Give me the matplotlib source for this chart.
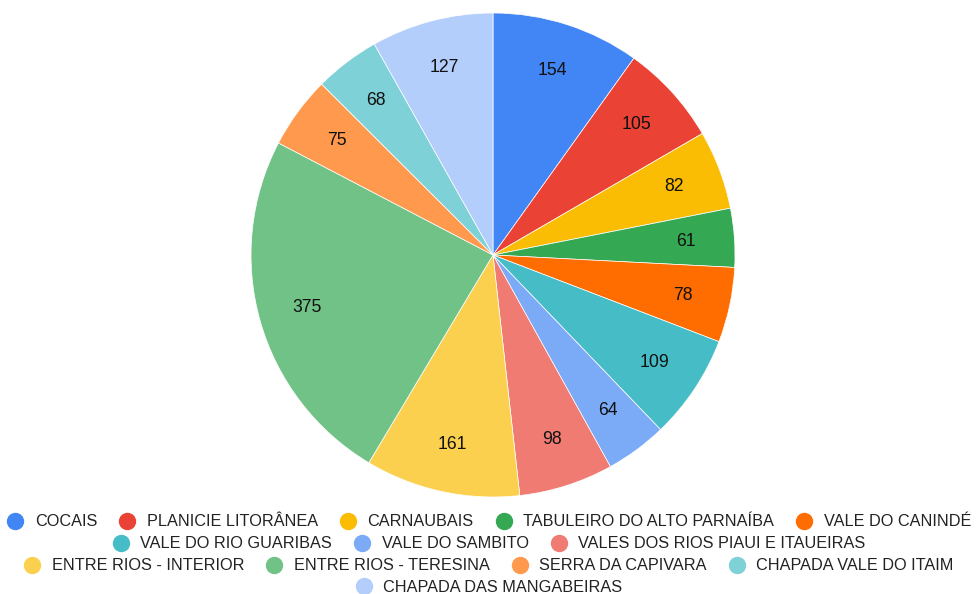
import matplotlib
matplotlib.use('Agg')
import matplotlib.pyplot as plt
from matplotlib.lines import Line2D

plt.rcParams['font.family'] = ['Liberation Sans', 'DejaVu Sans']

regions = [
    "COCAIS", "PLANICIE LITORÂNEA", "CARNAUBAIS", "TABULEIRO DO ALTO PARNAÍBA",
    "VALE DO CANINDÉ", "VALE DO RIO GUARIBAS", "VALE DO SAMBITO",
    "VALES DOS RIOS PIAUI E ITAUEIRAS", "ENTRE RIOS - INTERIOR",
    "ENTRE RIOS - TERESINA", "SERRA DA CAPIVARA", "CHAPADA VALE DO ITAIM",
    "CHAPADA DAS MANGABEIRAS",
]
counts = [154, 105, 82, 61, 78, 109, 64, 98, 161, 375, 75, 68, 127]
colors = [
    "#4285F4", "#EA4335", "#FBBC04", "#34A853", "#FF6D01", "#46BDC6",
    "#7BAAF7", "#F07B72", "#FCD04F", "#71C287", "#FF994D", "#7ED1D7",
    "#B3CEFB",
]
legend_rows = [5, 3, 4, 1]  # items per legend row

total = sum(counts)

fig = plt.figure(figsize=(9.78, 5.94), dpi=100)
ax = fig.add_axes([251 / 978, 97 / 594, 484 / 978, 484 / 594])
ax.pie(counts, colors=colors, startangle=90, counterclock=False,
       autopct=lambda p: f"{round(p * total / 100)}", pctdistance=0.8,
       wedgeprops=dict(edgecolor="white", linewidth=0.5),
       textprops=dict(fontsize=12.7, color="#111111"))
ax.set_aspect('equal')
ax.set_xlim(-1, 1)
ax.set_ylim(-1, 1)

row_y = [522, 544, 566, 587]
start = 0
for n, y in zip(legend_rows, row_y):
    handles = [Line2D([], [], marker='o', linestyle='', markersize=11.5,
                      markerfacecolor=c, markeredgecolor=c)
               for c in colors[start:start + n]]
    fig.legend(handles, regions[start:start + n], loc='center',
               bbox_to_anchor=(0.5, 1 - y / 594), ncol=n, frameon=False,
               fontsize=11.7, handlelength=1.0, handletextpad=0.7,
               columnspacing=1.35, borderpad=0, labelcolor="#222222")
    start += n

fig.savefig("out.png", dpi=100)
